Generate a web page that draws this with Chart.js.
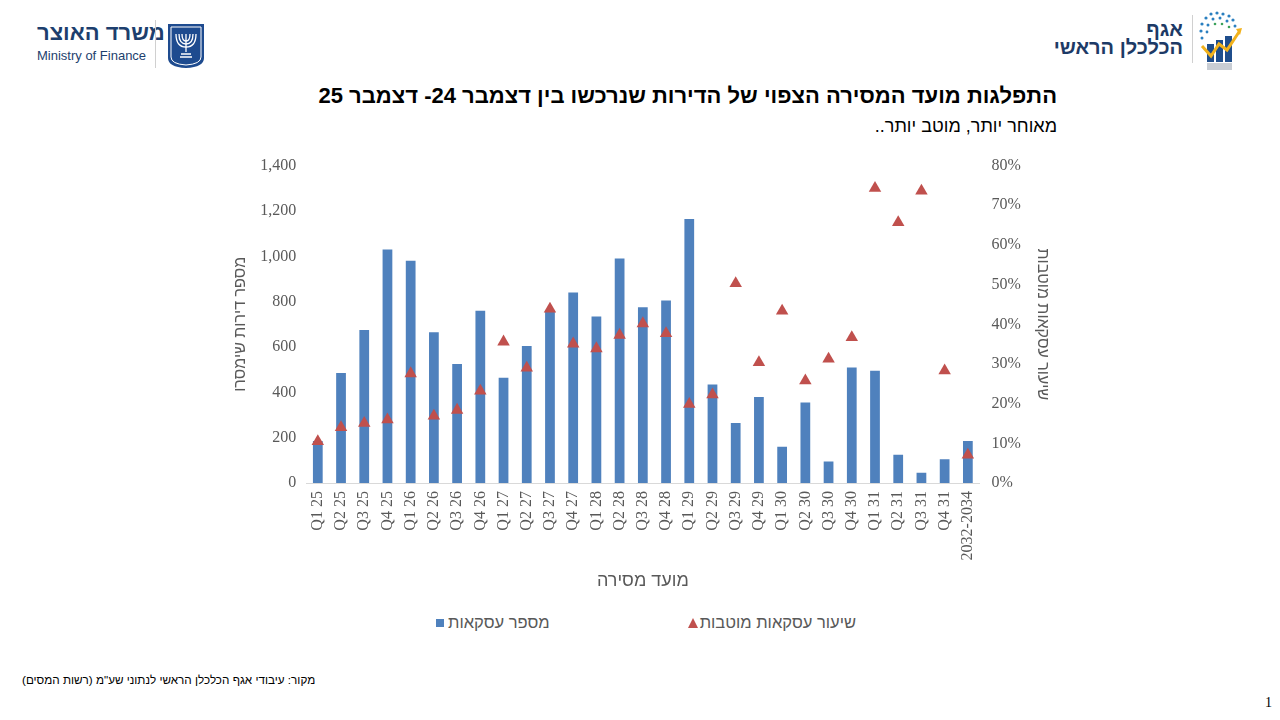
<!DOCTYPE html>
<html lang="he">
<head>
<meta charset="utf-8">
<title>מועד מסירה</title>
<script src="https://cdn.jsdelivr.net/npm/chart.js@4.4.1/dist/chart.umd.min.js"></script>
<style>
  html, body { margin: 0; padding: 0; background: #fff; }
  #page { position: relative; width: 1280px; height: 720px; overflow: hidden; font-family: "Liberation Sans", Arial, sans-serif; }
  .abs { position: absolute; }
  #title { right: 223px; top: 83px; font-size: 22px; font-weight: bold; color: #000; white-space: nowrap; }
  #subtitle { right: 223px; top: 116px; font-size: 18px; color: #000; white-space: nowrap; }
  #chart-box { left: 220px; top: 144px; width: 860px; height: 451px; }
  #legend { left: 436px; top: 613px; display: flex; align-items: center; font-size: 16.5px; color: #595959; }
  .legend-item { display: flex; align-items: center; }
  .legend-item + .legend-item { margin-left: 138px; }
  .swatch { width: 8px; height: 8px; margin-right: 4px; }
  .tri { width: 0; height: 0; border-left: 5px solid transparent; border-right: 5px solid transparent; border-bottom: 10px solid; margin-right: 2px; }
  #source { left: 22px; top: 673px; font-size: 11.7px; color: #000; white-space: nowrap; }
  #pagenum { right: 8px; top: 695px; font-family: "Liberation Serif", serif; font-size: 14px; }
  .mof-he { left: 37px; top: 20px; font-size: 22px; font-weight: bold; color: #1d3f6e; }
  .mof-en { left: 37px; top: 48px; font-size: 13px; color: #1d3f6e; }
  .sep { width: 1px; background: #d0d0d0; }
  .ce-he1 { right: 97px; top: 18px; font-size: 20px; font-weight: bold; color: #1d3a66; }
  .ce-he2 { right: 97px; top: 36px; font-size: 20px; font-weight: bold; color: #1d3a66; }
</style>
</head>
<body>
<div id="page">
  <!-- header, left: Ministry of Finance -->
  <div class="abs mof-he" dir="rtl">משרד האוצר</div>
  <div class="abs mof-en">Ministry of Finance</div>
  <div class="abs sep" style="left:155px; top:20px; height:48px;"></div>
  <svg class="abs" style="left:166px; top:22px;" width="40" height="47" viewBox="0 0 40 47">
    <path d="M2 2 H38 V36 Q38 45 20 46 Q2 45 2 36 Z" fill="#1e4b8f"/>
    <path d="M5 5 H35 V35 Q35 42 20 43 Q5 42 5 35 Z" fill="none" stroke="#fff" stroke-width="1"/>
    <g stroke="#fff" stroke-width="1.3" fill="none">
      <path d="M20 12 V30"/>
      <path d="M13 12 Q13 22 20 22 Q27 22 27 12"/>
      <path d="M16 12 Q16 19 20 19 Q24 19 24 12"/>
      <path d="M10 12 Q10 25 20 25 Q30 25 30 12"/>
      <path d="M15 32 H25 M14 35 H26"/>
    </g>
  </svg>

  <!-- header, right: Chief Economist -->
  <div class="abs ce-he1" dir="rtl">אגף</div>
  <div class="abs ce-he2" dir="rtl">הכלכלן הראשי</div>
  <div class="abs sep" style="left:1192px; top:15px; height:48px;"></div>
  <svg class="abs" style="left:1197px; top:10px;" width="46" height="60" viewBox="0 0 46 60">
    <g fill="#2a7fc0">
      <circle cx="14" cy="4" r="1.6"/><circle cx="20" cy="3" r="1.6"/><circle cx="26" cy="4" r="1.6"/><circle cx="32" cy="6" r="1.6"/>
      <circle cx="9" cy="8" r="1.6"/><circle cx="16" cy="9" r="1.5"/><circle cx="23" cy="8" r="1.5"/><circle cx="30" cy="11" r="1.5"/><circle cx="36" cy="10" r="1.6"/>
      <circle cx="5" cy="14" r="1.6"/><circle cx="11" cy="15" r="1.5"/><circle cx="38" cy="16" r="1.5"/>
      <circle cx="4" cy="21" r="1.6"/><circle cx="10" cy="22" r="1.4"/>
      <circle cx="5" cy="28" r="1.5"/>
    </g>
    <g fill="#3aa15a"><circle cx="18" cy="14" r="1.3"/><circle cx="25" cy="14" r="1.3"/><circle cx="32" cy="17" r="1.3"/></g>
    <rect x="10" y="34" width="7" height="18" fill="#1f4e8c"/>
    <rect x="19" y="30" width="7" height="22" fill="#1f4e8c"/>
    <rect x="28" y="26" width="7" height="26" fill="#1f4e8c"/>
    <rect x="10" y="53" width="25" height="7" fill="#c8cdd4"/>
    <path d="M5 36 L14 46 L22 34 L30 40 L42 22" stroke="#f2b21c" stroke-width="3" fill="none"/>
    <path d="M39 19 L45 18 L43 25 Z" fill="#f2b21c"/>
  </svg>

  <div id="title" class="abs" dir="rtl">התפלגות מועד המסירה הצפוי של הדירות שנרכשו בין דצמבר 24- דצמבר 25</div>
  <div id="subtitle" class="abs" dir="rtl">מאוחר יותר, מוטב יותר..</div>

  <div id="chart-box" class="abs"><canvas id="chart" width="860" height="451"></canvas></div>
  <div id="legend" class="abs"></div>

  <div id="source" class="abs" dir="rtl">מקור: עיבודי אגף הכלכלן הראשי לנתוני שע"מ (רשות המסים)</div>
  <div id="pagenum" class="abs">1</div>
</div>

<script>
// delivery quarters
const categories = [
  'Q1 25', 'Q2 25', 'Q3 25', 'Q4 25',
  'Q1 26', 'Q2 26', 'Q3 26', 'Q4 26',
  'Q1 27', 'Q2 27', 'Q3 27', 'Q4 27',
  'Q1 28', 'Q2 28', 'Q3 28', 'Q4 28',
  'Q1 29', 'Q2 29', 'Q3 29', 'Q4 29',
  'Q1 30', 'Q2 30', 'Q3 30', 'Q4 30',
  'Q1 31', 'Q2 31', 'Q3 31', 'Q4 31',
  '2032-2034'
];

// number of deals (left axis)
const dealCounts = [
  185, 485, 675, 1030,
  980, 665, 525, 760,
  465, 605, 755, 840,
  735, 990, 775, 805,
  1165, 435, 265, 380,
  160, 355, 95, 510,
  495, 125, 45, 105,
  185
];

// share of subsidised deals, % (right axis)
const favoredShare = [
  10.5, 14.0, 15.1, 16.0,
  27.6, 16.9, 18.4, 23.2,
  35.6, 29.0, 43.9, 35.1,
  33.9, 37.3, 40.2, 37.7,
  19.9, 22.3, 50.3, 30.4,
  43.4, 25.8, 31.3, 36.7,
  74.3, 65.7, 73.6, 28.3,
  7.1
];

const BAR_BLUE = '#4F81BD';
const TRI_RED = '#C0504D';
const GREY_TEXT = '#595959';
const tickFont = { family: '"Liberation Serif", "Times New Roman", serif', size: 16 };
const titleFont = { family: '"Liberation Sans", Arial, sans-serif', size: 16 };

const ctx = document.getElementById('chart').getContext('2d');
const chart = new Chart(ctx, {
  data: {
    labels: categories,
    datasets: [
      {
        type: 'bar',
        label: 'מספר עסקאות',
        data: dealCounts,
        backgroundColor: BAR_BLUE,
        yAxisID: 'y',
        categoryPercentage: 1,
        barPercentage: 0.42,
        order: 1
      },
      {
        type: 'line',
        label: 'שיעור עסקאות מוטבות',
        data: favoredShare,
        showLine: false,
        pointStyle: 'triangle',
        pointRadius: 7.2,
        pointBackgroundColor: TRI_RED,
        pointBorderColor: TRI_RED,
        pointBorderWidth: 0,
        yAxisID: 'y1',
        order: 0
      }
    ]
  },
  options: {
    responsive: false,
    animation: false,
    layout: { padding: { left: 11, right: 28, top: 0, bottom: 3 } },
    plugins: {
      legend: { display: false },
      tooltip: { enabled: false }
    },
    scales: {
      x: {
        grid: { display: false, drawTicks: false },
        border: { color: '#D9D9D9', width: 1 },
        ticks: { color: GREY_TEXT, font: tickFont, minRotation: 90, maxRotation: 90, padding: 8, autoSkip: false },
        title: { display: true, text: 'מועד מסירה', color: GREY_TEXT, font: { family: titleFont.family, size: 18 }, padding: { top: 2, bottom: 0 } }
      },
      y: {
        position: 'left',
        min: 0,
        max: 1400,
        grid: { display: false, drawTicks: false },
        border: { display: false },
        ticks: { stepSize: 200, color: GREY_TEXT, font: tickFont, padding: 10, callback: (v) => v.toLocaleString('en-US') },
        title: { display: true, text: 'מספר דירות שימסרו', color: GREY_TEXT, font: titleFont, padding: 0 }
      },
      y1: {
        position: 'right',
        min: 0,
        max: 80,
        grid: { display: false, drawTicks: false },
        border: { display: false },
        ticks: { stepSize: 10, color: GREY_TEXT, font: tickFont, padding: 12, callback: (v) => v + '%' },
        title: { display: true, text: 'שיעור עסקאות מוטבות', color: GREY_TEXT, font: titleFont, padding: 0 }
      }
    }
  }
});

// legend below the chart, built from the datasets
function buildLegend() {
  const legendBox = document.getElementById('legend');
  legendBox.innerHTML = '';
  chart.data.datasets.forEach((ds) => {
    const item = document.createElement('div');
    item.className = 'legend-item';
    const mark = document.createElement('span');
    if (ds.pointStyle === 'triangle') {
      mark.className = 'tri';
      mark.style.borderBottomColor = ds.pointBackgroundColor;
    } else {
      mark.className = 'swatch';
      mark.style.background = ds.backgroundColor;
    }
    const text = document.createElement('span');
    text.dir = 'rtl';
    text.innerText = ds.label;
    item.appendChild(mark);
    item.appendChild(text);
    legendBox.appendChild(item);
  });
}
buildLegend();
</script>
</body>
</html>
